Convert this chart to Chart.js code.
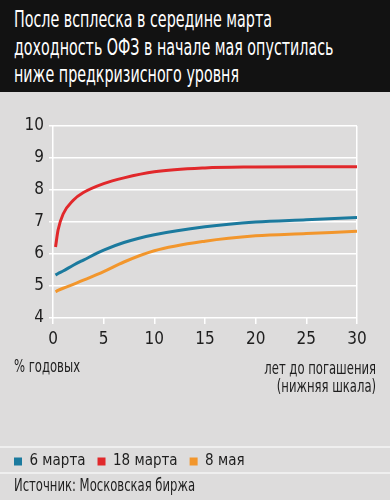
<!DOCTYPE html>
<html lang="ru">
<head>
<meta charset="utf-8">
<script src="https://cdn.jsdelivr.net/npm/chart.js@4/dist/chart.umd.min.js"></script>
<style>
    body { margin: 0; }
    #frame {
        position: relative;
        width: 390px;
        height: 500px;
        background: #dddcdc;
        overflow: hidden;
        font-family: "DejaVu Sans Condensed", "DejaVu Sans", sans-serif;
        color: #1e1e1e;
    }
    #title {
        position: absolute;
        left: 0; top: 0;
        width: 390px; height: 92px;
        background: #121212;
    }
    .tline {
        position: absolute;
        left: 14px;
        color: #fff;
        font-size: 23px;
        line-height: 28px;
        white-space: nowrap;
        transform: scaleX(0.69);
        transform-origin: left center;
    }
    #chartBox {
        position: absolute;
        left: 0; top: 92px;
        width: 390px; height: 387px;
    }
    .note {
        position: absolute;
        font-size: 17px;
        line-height: 18px;
        white-space: nowrap;
        transform: scaleX(0.76);
    }
    .note.left { left: 14px; transform-origin: left center; }
    .note.right { right: 14px; text-align: right; transform-origin: right center; }
    .sep {
        position: absolute;
        left: 0; width: 390px; height: 2px;
        background: #efefef;
    }
</style>
</head>
<body>
<div id="frame">
    <div id="title">
        <div class="tline" style="top:5px;">После всплеска в середине марта</div>
        <div class="tline" style="top:33px;">доходность ОФЗ в начале мая опустилась</div>
        <div class="tline" style="top:60px;">ниже предкризисного уровня</div>
    </div>
    <div id="chartBox"><canvas id="yieldChart"></canvas></div>
    <div class="note left" style="top:357px;">% годовых</div>
    <div class="note right" style="top:359px;">лет до погашения<br>(нижняя шкала)</div>
    <div class="sep" style="top:446px;"></div>
    <div class="sep" style="top:472px;"></div>
    <div class="note left" style="top:476px;">Источник: Московская биржа</div>
</div>

<script>
// Years to maturity (bottom axis)
const maturities = [0.25, 0.5, 1, 2, 3, 5, 7, 10, 15, 20, 25, 30];

// OFZ yield curves, % per year
const yieldMar6 = [5.34, 5.39, 5.47, 5.65, 5.81, 6.12, 6.36, 6.6, 6.85, 7.0, 7.07, 7.14];
const yieldMar18 = [6.22, 6.75, 7.25, 7.68, 7.92, 8.2, 8.38, 8.57, 8.69, 8.72, 8.73, 8.73];
const yieldMay8 = [4.82, 4.86, 4.93, 5.05, 5.18, 5.45, 5.75, 6.1, 6.4, 6.57, 6.64, 6.71];

const seriesNames = ['6 марта', '18 марта', '8 мая'];
const seriesColors = ['#1b7a9e', '#e1282b', '#f2962c'];

const xTicks = [0, 5, 10, 15, 20, 25, 30];

const FONT = "'DejaVu Sans Condensed', 'DejaVu Sans', sans-serif";

function toPoints(values) {
    return maturities.map((m, i) => ({ x: m, y: values[i] }));
}

const datasets = [yieldMar6, yieldMar18, yieldMay8].map((values, i) => ({
    label: seriesNames[i],
    data: toPoints(values),
    borderColor: seriesColors[i],
    backgroundColor: seriesColors[i],
    borderWidth: 3,
    pointRadius: 0,
    cubicInterpolationMode: 'monotone',
    fill: false
}));

new Chart(document.getElementById('yieldChart'), {
    type: 'line',
    data: { datasets: datasets },
    options: {
        responsive: true,
        maintainAspectRatio: false,
        animation: false,
        layout: { padding: { top: 34, right: 33, left: 2, bottom: 0 } },
        plugins: {
            tooltip: { enabled: false },
            legend: {
                position: 'bottom',
                align: 'start',
                labels: {
                    boxWidth: 8,
                    boxHeight: 8,
                    padding: 12,
                    color: '#1e1e1e',
                    font: { family: FONT, size: 15 },
                    generateLabels: chart => chart.data.datasets.map((ds, i) => ({
                        text: ds.label,
                        fillStyle: ds.borderColor,
                        strokeStyle: ds.borderColor,
                        lineWidth: 0,
                        fontColor: '#1e1e1e',
                        datasetIndex: i
                    }))
                }
            }
        },
        scales: {
            x: {
                type: 'linear',
                min: 0,
                max: 30,
                afterFit: scale => { scale.height = 124; },
                afterBuildTicks: scale => { scale.ticks = xTicks.map(v => ({ value: v })); },
                border: { display: false },
                grid: {
                    color: ctx => (ctx.tick && (ctx.tick.value === 0 || ctx.tick.value === 30)) ? '#ffffff' : 'rgba(0,0,0,0)',
                    tickColor: '#ffffff',
                    lineWidth: 1.5,
                    tickLength: 6
                },
                ticks: {
                    padding: 5,
                    color: '#1e1e1e',
                    font: { family: FONT, size: 17 },
                    maxRotation: 0
                }
            },
            y: {
                min: 4,
                max: 10,
                afterFit: scale => { scale.width = 51; },
                border: { display: false },
                grid: {
                    color: '#ffffff',
                    lineWidth: 1.5,
                    tickLength: 4
                },
                ticks: {
                    stepSize: 1,
                    padding: 5,
                    color: '#1e1e1e',
                    font: { family: FONT, size: 17 }
                }
            }
        }
    }
});
</script>
</body>
</html>
